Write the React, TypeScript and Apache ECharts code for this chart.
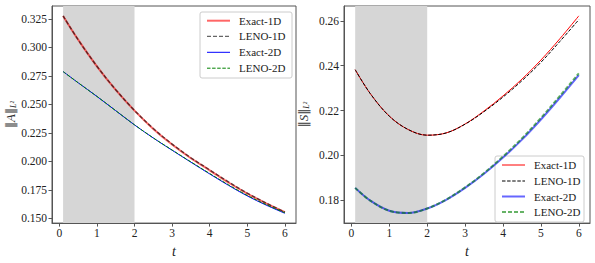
import React, { useEffect, useRef } from "react";
import * as echarts from "echarts";

// ---- data ----
const tValues = [0.1, 0.5, 1, 1.5, 2, 2.5, 3, 3.5, 4, 4.5, 5, 5.5, 6];

const aExact1D = [0.3276, 0.3068, 0.2834, 0.2627, 0.2445, 0.2285, 0.2148, 0.2028, 0.1922, 0.1815, 0.1718, 0.1632, 0.1555];
const aLeno1D = [0.3276, 0.3067, 0.2835, 0.2629, 0.2447, 0.2288, 0.2152, 0.2032, 0.1925, 0.182, 0.1722, 0.1635, 0.1556];
const aExact2D = [0.2788, 0.269, 0.257, 0.2445, 0.232, 0.2205, 0.2098, 0.1993, 0.189, 0.179, 0.1697, 0.1617, 0.1545];
const aLeno2D = [0.2788, 0.269, 0.257, 0.2445, 0.2321, 0.2206, 0.21, 0.1996, 0.1894, 0.1795, 0.1702, 0.1622, 0.155];

const sExact1D = [0.2382, 0.2275, 0.2175, 0.2115, 0.209, 0.21, 0.214, 0.2198, 0.2265, 0.234, 0.2425, 0.252, 0.2622];
const sLeno1D = [0.2382, 0.2275, 0.2175, 0.2115, 0.209, 0.21, 0.2139, 0.2195, 0.226, 0.2333, 0.2415, 0.2508, 0.2605];
const sExact2D = [0.1855, 0.1798, 0.1753, 0.1743, 0.1763, 0.1802, 0.1855, 0.1918, 0.199, 0.207, 0.216, 0.2257, 0.2358];
const sLeno2D = [0.1855, 0.1798, 0.1753, 0.1743, 0.1763, 0.1803, 0.1857, 0.1921, 0.1995, 0.2076, 0.2167, 0.2265, 0.2366];

const shadeRange = [0.1, 2];
const xTicks = [0, 1, 2, 3, 4, 5, 6];
const yTicksA = [0.15, 0.175, 0.2, 0.225, 0.25, 0.275, 0.3, 0.325];
const yTicksS = [0.18, 0.2, 0.22, 0.24, 0.26];
const legendLabels = ["Exact-1D", "LENO-1D", "Exact-2D", "LENO-2D"];

const FONT = "Liberation Serif, Times New Roman, serif";
const AXIS_COLOR = "#555";

const pair = (ys: number[]) => tValues.map((t, i) => [t, ys[i]]);

type LStyle = { color: string; width: number; dash?: number[] };

const leftStyles: LStyle[] = [
  { color: "rgba(255,0,0,0.6)", width: 2 },
  { color: "rgba(0,0,0,0.6)", width: 1.4, dash: [4, 2] },
  { color: "#0000ff", width: 1 },
  { color: "#008000", width: 1, dash: [3.5, 1.6] },
];
const rightStyles: LStyle[] = [
  { color: "#ff0000", width: 1 },
  { color: "#000000", width: 1, dash: [3.5, 1.6] },
  { color: "rgba(0,0,255,0.6)", width: 2 },
  { color: "rgba(0,128,0,0.6)", width: 2, dash: [4, 2] },
];

function makeLegend(x0: number, y0: number, w: number, h: number, rowYs: number[], styles: LStyle[]) {
  const children: any[] = [
    {
      type: "rect",
      shape: { x: x0, y: y0, width: w, height: h, r: 2 },
      style: { fill: "rgba(255,255,255,0.8)", stroke: "#cccccc", lineWidth: 1 },
    },
  ];
  rowYs.forEach((ry, i) => {
    const s = styles[i];
    children.push({
      type: "line",
      shape: { x1: x0 + 7, y1: ry, x2: x0 + 30, y2: ry },
      style: { stroke: s.color, lineWidth: s.width, lineDash: s.dash || null },
    });
    children.push({
      type: "text",
      x: x0 + 39,
      y: ry,
      style: {
        text: legendLabels[i],
        fontFamily: FONT,
        fontSize: 11,
        fill: "#222",
        verticalAlign: "middle",
      },
    });
  });
  return { type: "group", z: 100, children };
}

function makeSeries(idx: number, arrays: number[][], styles: LStyle[]) {
  return arrays.map((arr, i) => {
    const s = styles[i];
    const ser: any = {
      type: "line",
      name: legendLabels[i],
      xAxisIndex: idx,
      yAxisIndex: idx,
      data: pair(arr),
      showSymbol: false,
      symbol: "none",
      smooth: 0.35,
      lineStyle: { color: s.color, width: s.width, type: s.dash ? s.dash : "solid" },
      z: 3 + i,
    };
    if (i === 0) {
      ser.markArea = {
        silent: true,
        itemStyle: { color: "#d6d6d6" },
        data: [[{ xAxis: shadeRange[0] }, { xAxis: shadeRange[1] }]],
      };
    }
    return ser;
  });
}

function xAxis(gridIndex: number) {
  return {
    type: "value",
    gridIndex,
    min: -0.195,
    max: 6.295,
    name: "t",
    nameLocation: "middle",
    nameGap: 18,
    nameTextStyle: { fontFamily: FONT, fontStyle: "italic", fontSize: 14, color: "#222" },
    axisLine: { show: true, onZero: false, lineStyle: { color: AXIS_COLOR } },
    axisTick: { show: true, inside: false, length: 3.5, customValues: xTicks, lineStyle: { color: AXIS_COLOR } },
    axisLabel: {
      customValues: xTicks,
      fontFamily: FONT,
      fontSize: 11.5,
      color: "#222",
      margin: 4,
      formatter: (v: number) => String(v),
    },
    splitLine: { show: false },
  };
}

function yAxis(gridIndex: number, min: number, max: number, ticks: number[], digits: number, letter: string) {
  return {
    type: "value",
    gridIndex,
    min,
    max,
    name: `{n|‖}{i|${letter}}{n|‖}{s|L²}`,
    nameLocation: "middle",
    nameRotate: 90,
    nameGap: 34,
    nameTextStyle: {
      rich: {
        n: { fontFamily: "DejaVu Sans", fontSize: 12, color: "#333" },
        i: { fontFamily: FONT, fontStyle: "italic", fontSize: 13, color: "#333" },
        s: { fontFamily: FONT, fontStyle: "italic", fontSize: 8, color: "#333", verticalAlign: "bottom", padding: [5, 0, 0, 0] },
      },
    },
    axisLine: { show: true, onZero: false, lineStyle: { color: AXIS_COLOR } },
    axisTick: { show: true, inside: false, length: 3.5, customValues: ticks, lineStyle: { color: AXIS_COLOR } },
    axisLabel: {
      customValues: ticks,
      fontFamily: FONT,
      fontSize: 11.5,
      color: "#222",
      margin: 5,
      formatter: (v: number) => v.toFixed(digits),
    },
    splitLine: { show: false },
  };
}

export default function App() {
  const ref = useRef<HTMLDivElement>(null);
  useEffect(() => {
    if (!ref.current) return;
    const chart = echarts.init(ref.current, null, { renderer: "svg" });
    const option: any = {
      animation: false,
      backgroundColor: "#ffffff",
      textStyle: { fontFamily: FONT },
      grid: [
        { left: 52, top: 6, width: 244, height: 223, show: true, borderColor: AXIS_COLOR, borderWidth: 1, backgroundColor: "transparent" },
        { left: 344, top: 6, width: 246, height: 223, show: true, borderColor: AXIS_COLOR, borderWidth: 1, backgroundColor: "transparent" },
      ],
      xAxis: [xAxis(0), xAxis(1)],
      yAxis: [
        yAxis(0, 0.1459, 0.3363, yTicksA, 3, "A"),
        yAxis(1, 0.1698, 0.2666, yTicksS, 2, "S"),
      ],
      series: [
        ...makeSeries(0, [aExact1D, aLeno1D, aExact2D, aLeno2D], leftStyles),
        ...makeSeries(1, [sExact1D, sLeno1D, sExact2D, sLeno2D], rightStyles),
      ],
      graphic: [
        makeLegend(200, 12, 92, 66, [20.7, 36.4, 52.3, 68.2], leftStyles),
        makeLegend(495, 156, 89, 66, [165, 181, 196.5, 212], rightStyles),
      ],
    };
    chart.setOption(option);
    return () => chart.dispose();
  }, []);
  return (
    <div
      ref={ref}
      style={{ position: "absolute", left: 0, top: 0, width: 595, height: 263 }}
    />
  );
}
